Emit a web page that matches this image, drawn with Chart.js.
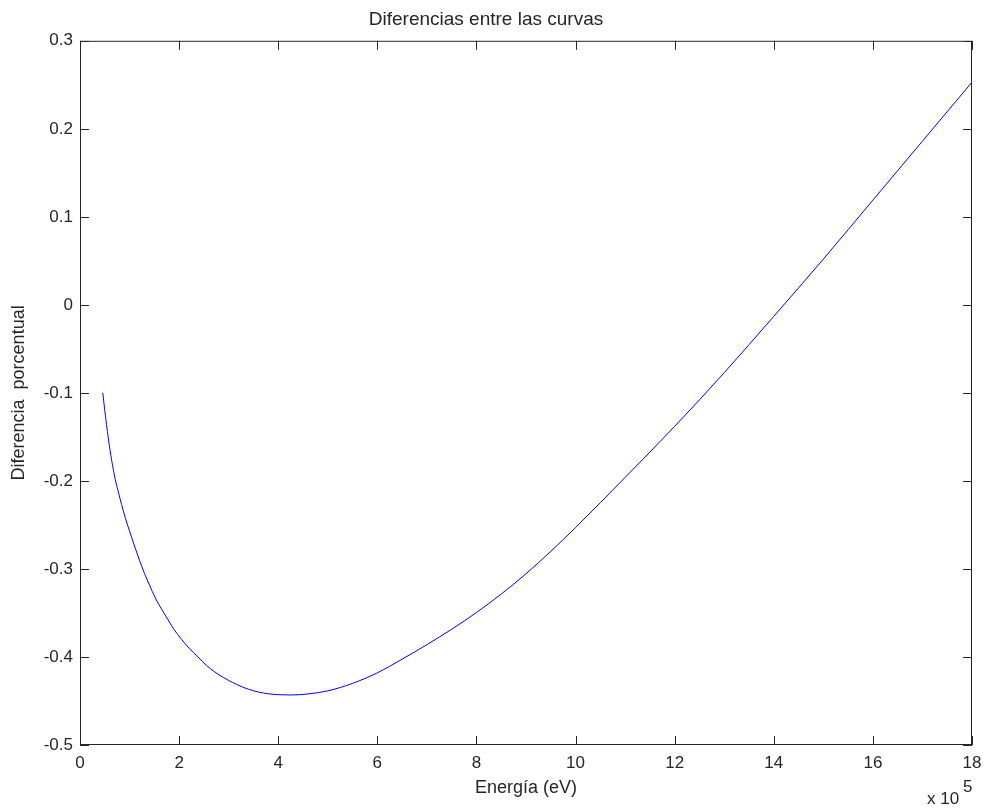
<!DOCTYPE html>
<html>
<head>
<meta charset="utf-8">
<script src="https://cdn.jsdelivr.net/npm/chart.js@4/dist/chart.umd.min.js"></script>
<style>
  body { margin: 0; background: #fff; }
  #grafica { display: block; }
</style>
</head>
<body>
<canvas id="grafica" width="987" height="810"></canvas>
<script>
// energía en unidades de 10^5 eV
const energia = [0.46, 0.5, 0.57, 0.64, 0.71, 0.78, 0.84, 0.92, 1.0, 1.1, 1.2, 1.3, 1.4, 1.52, 1.65, 1.78, 1.9, 2.05, 2.2, 2.38, 2.55, 2.72, 2.9, 3.08, 3.25, 3.42, 3.6, 3.8, 4.0, 4.25, 4.6, 5.0, 5.5, 6.0, 6.5, 7.0, 7.5, 8.0, 8.5, 9.0, 9.5, 10.0, 11.0, 12.0, 13.0, 14.0, 15.0, 16.0, 17.0, 18.0];
const diferencia = [-0.100, -0.120, -0.151, -0.177, -0.198, -0.214, -0.227, -0.243, -0.257, -0.274, -0.290, -0.305, -0.318, -0.333, -0.346, -0.358, -0.369, -0.380, -0.390, -0.400, -0.4095, -0.417, -0.4235, -0.429, -0.4335, -0.437, -0.4398, -0.4418, -0.4428, -0.4432, -0.442, -0.4385, -0.430, -0.418, -0.4025, -0.386, -0.3685, -0.3495, -0.3285, -0.3055, -0.280, -0.253, -0.196, -0.138, -0.077, -0.013, 0.052, 0.119, 0.186, 0.253];

const xTicks = [0, 2, 4, 6, 8, 10, 12, 14, 16, 18];
const yTicks = [-0.5, -0.4, -0.3, -0.2, -0.1, 0, 0.1, 0.2, 0.3];

const colorEjes = '#262626';
const fuente = 'Arial, "Liberation Sans", sans-serif';

// caja y marcas hacia dentro, estilo matlab
const cajaEjes = {
    id: 'cajaEjes',
    afterDraw(chart) {
        const { ctx, chartArea: a, scales } = chart;
        const largo = 9;
        ctx.save();
        ctx.strokeStyle = colorEjes;
        ctx.lineWidth = 1;
        ctx.strokeRect(a.left + 0.5, a.top + 0.5, a.right - a.left - 1, a.bottom - a.top - 1);
        ctx.beginPath();
        xTicks.forEach(v => {
            const px = Math.round(scales.x.getPixelForValue(v)) + 0.5;
            ctx.moveTo(px, a.bottom);
            ctx.lineTo(px, a.bottom - largo);
            ctx.moveTo(px, a.top);
            ctx.lineTo(px, a.top + largo);
        });
        yTicks.forEach(v => {
            const py = Math.round(scales.y.getPixelForValue(v)) + 0.5;
            ctx.moveTo(a.left, py);
            ctx.lineTo(a.left + largo, py);
            ctx.moveTo(a.right, py);
            ctx.lineTo(a.right - largo, py);
        });
        ctx.stroke();

        // factor de escala del eje x
        ctx.fillStyle = colorEjes;
        ctx.font = '17px ' + fuente;
        ctx.textAlign = 'left';
        ctx.textBaseline = 'alphabetic';
        ctx.fillText('x 10', a.right - 45, a.bottom + 59);
        ctx.fillText('5', a.right - 9, a.bottom + 47);
        ctx.restore();
    }
};

function inicializarGrafica() {
    const ctx = document.getElementById('grafica').getContext('2d');
    const puntos = energia.map((x, i) => ({ x: x, y: diferencia[i] }));

    new Chart(ctx, {
        type: 'scatter',
        data: {
            datasets: [{
                data: puntos,
                showLine: true,
                borderColor: '#0000ff',
                borderWidth: 1,
                pointRadius: 0,
                cubicInterpolationMode: 'monotone'
            }]
        },
        options: {
            responsive: false,
            animation: false,
            layout: { padding: { left: 0, right: 15, top: 0, bottom: 0 } },
            scales: {
                x: {
                    type: 'linear',
                    min: 0,
                    max: 18,
                    afterBuildTicks: s => { s.ticks = xTicks.map(v => ({ value: v })); },
                    afterFit: s => {
                        s.height = 65;
                        s.paddingLeft = 0;
                        s.paddingRight = 0;
                    },
                    grid: { display: false, drawTicks: false },
                    border: { display: false },
                    ticks: {
                        color: colorEjes,
                        font: { family: fuente, size: 17 },
                        padding: 8,
                        maxRotation: 0,
                        autoSkip: false
                    },
                    title: {
                        display: true,
                        text: 'Energía (eV)',
                        color: colorEjes,
                        font: { family: fuente, size: 18 },
                        padding: { top: 0, bottom: 11 }
                    }
                },
                y: {
                    type: 'linear',
                    min: -0.5,
                    max: 0.3,
                    afterBuildTicks: s => { s.ticks = yTicks.map(v => ({ value: v })); },
                    afterFit: s => { s.width = 80; },
                    grid: { display: false, drawTicks: false },
                    border: { display: false },
                    ticks: {
                        color: colorEjes,
                        font: { family: fuente, size: 17 },
                        padding: 7,
                        callback: v => String(Math.round(v * 10) / 10)
                    },
                    title: {
                        display: true,
                        text: 'Diferencia  porcentual',
                        color: colorEjes,
                        font: { family: fuente, size: 18 },
                        padding: { top: 8, bottom: 0 }
                    }
                }
            },
            plugins: {
                legend: { display: false },
                tooltip: { enabled: false },
                title: {
                    display: true,
                    text: 'Diferencias entre las curvas',
                    color: colorEjes,
                    font: { family: fuente, size: 19, weight: 'normal' },
                    padding: { top: 8, bottom: 10 }
                }
            }
        },
        plugins: [cajaEjes]
    });
}

inicializarGrafica();
</script>
</body>
</html>
